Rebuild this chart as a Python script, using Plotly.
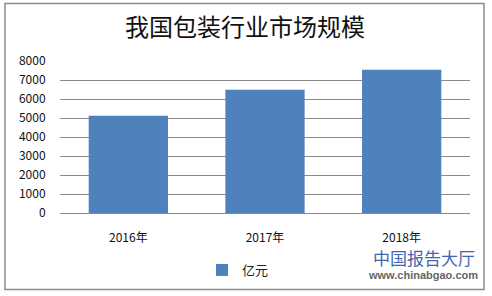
import plotly.graph_objects as go

categories = ["2016年", "2017年", "2018年"]
values = [5115, 6490, 7540]
series_name = "亿元"
y_ticks = [0, 1000, 2000, 3000, 4000, 5000, 6000, 7000, 8000]
title_text = "我国包装行业市场规模"

W, H = 492, 296
L, R, T, B = 60, 22, 61, 82
pw, ph = W - L - R, H - T - B

def px(x):
    return (x - L) / pw

def py(y):
    return (H - B - y) / ph

font_cjk = "Noto Sans CJK SC, Noto Sans, sans-serif"

fig = go.Figure()
fig.add_trace(go.Bar(
    x=categories, y=values, name=series_name,
    marker=dict(color="#4F81BD", line=dict(width=0)),
    showlegend=True,
))

fig.update_layout(
    width=W, height=H,
    margin=dict(l=L, r=R, t=T, b=B),
    paper_bgcolor="white", plot_bgcolor="white",
    bargap=0.42,
    font=dict(family=font_cjk, size=12, color="#222"),
    title=dict(text=title_text, x=245 / W, xanchor="center",
               y=1 - 28 / H, yanchor="middle",
               font=dict(size=24, color="#111", family=font_cjk)),
    xaxis=dict(showgrid=False, showline=False, ticks="outside", ticklen=14,
               tickcolor="rgba(0,0,0,0)", tickfont=dict(size=12, color="#111")),
    yaxis=dict(range=[0, 8000], tickvals=y_ticks, showgrid=True,
               gridcolor="#8a8a8a", gridwidth=1, zeroline=True,
               zerolinecolor="#8a8a8a", zerolinewidth=1, showline=False,
               ticks="outside", ticklen=11, tickcolor="rgba(0,0,0,0)",
               tickfont=dict(size=12, color="#111")),
    legend=dict(orientation="h", x=px(238), xanchor="center",
                y=py(270), yanchor="middle",
                font=dict(size=13, color="#222"), itemwidth=30,
                bgcolor="rgba(0,0,0,0)"),
    shapes=[dict(type="rect", xref="paper", yref="paper",
                 x0=px(5), x1=px(484), y0=py(291), y1=py(3),
                 line=dict(color="#8c8c8c", width=1.5))],
    annotations=[
        dict(text="中国报告大厅", xref="paper", yref="paper",
             x=px(424), y=py(259), xanchor="center", yanchor="middle",
             showarrow=False, font=dict(size=17, color="#3f66b0", family=font_cjk)),
        dict(text="<b>www.chinabgao.com</b>", xref="paper", yref="paper",
             x=px(423), y=py(276), xanchor="center", yanchor="middle",
             showarrow=False, font=dict(size=11, color="#666", family="Arial, Liberation Sans, sans-serif")),
    ],
)

fig.write_html("out.html")
